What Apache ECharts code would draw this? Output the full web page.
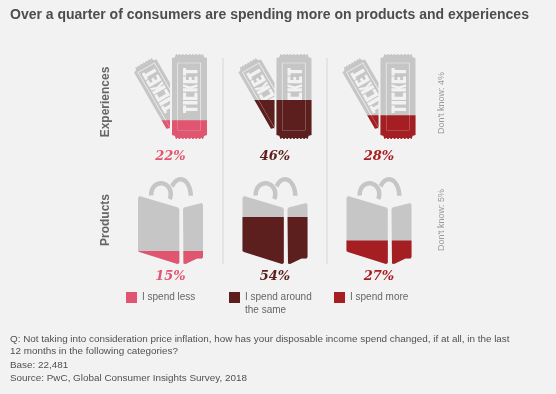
<!DOCTYPE html>
<html>
<head>
<meta charset="utf-8">
<style>html,body{margin:0;padding:0;background:#f2f2f2}#c{width:556px;height:394px}</style>
<script src="https://cdn.jsdelivr.net/npm/echarts@6/dist/echarts.min.js"></script>
</head>
<body>
<div id="c"></div>
<script>
// ---------- data ----------
const responses = ['I spend less', 'I spend around the same', 'I spend more'];
const colors = ['#e0556f', '#5c1f1e', '#a51e22'];
const experiences = [22, 46, 28];
const products = [15, 54, 27];
const dontKnow = ['Don\'t know: 4%', 'Don\'t know: 5%'];
const rowNames = ['Experiences', 'Products'];
const titleText = 'Over a quarter of consumers are spending more on products and experiences';
const questionText = 'Q: Not taking into consideration price inflation, how has your disposable income spend changed, if at all, in the last\n12 months in the following categories?';
const baseText = 'Base: 22,481';
const sourceText = 'Source: PwC, Global Consumer Insights Survey, 2018';

// ---------- icon shapes ----------
const area = p => p.reduce((s, a, i) => { const b = p[(i + 1) % p.length]; return s + a[0] * b[1] - b[0] * a[1]; }, 0);
const orient = (p, cw) => ((area(p) > 0) === cw ? p : p.slice().reverse());
const toPath = p => 'M' + p.map(q => q[0].toFixed(2) + ' ' + q[1].toFixed(2)).join('L') + 'Z';
function clipX(p, xmax) {
  const out = [];
  p.forEach((a, i) => {
    const b = p[(i + 1) % p.length];
    const ain = a[0] <= xmax, bin = b[0] <= xmax;
    if (ain) out.push(a);
    if (ain !== bin) { const t = (xmax - a[0]) / (b[0] - a[0]); out.push([xmax, a[1] + t * (b[1] - a[1])]); }
  });
  return out;
}
function ticketOutline(w, h, n) {
  const c = 4, d = 1, p = [[0, c], [c * 0.7, c * 0.8], [c, 0]];
  const tw = (w - 2 * c) / (2 * n);
  for (let i = 0; i < n; i++) { const x = c + i * 2 * tw; p.push([x + tw * 0.5, 0], [x + tw * 0.5, d], [x + tw * 1.5, d], [x + tw * 1.5, 0]); }
  p.push([w - c, 0], [w - c * 0.7, c * 0.8], [w, c], [w, h - c], [w - c * 0.7, h - c * 0.8], [w - c, h]);
  for (let i = n - 1; i >= 0; i--) { const x = c + i * 2 * tw; p.push([x + tw * 1.5, h], [x + tw * 1.5, h - d], [x + tw * 0.5, h - d], [x + tw * 0.5, h]); }
  p.push([c, h], [c * 0.7, h - c * 0.8], [0, h - c]);
  return p;
}
const letterT = [5, [[0,0],[5,0],[5,1.5],[3.6,1.5],[3.6,7],[1.4,7],[1.4,1.5],[0,1.5]]];
const glyphs = [
  letterT,
  [2.4, [[0,0],[2.4,0],[2.4,7],[0,7]]],
  [5, [[0,0],[5,0],[5,1.5],[2.2,1.5],[2.2,5.5],[5,5.5],[5,7],[0,7]]],
  [5, [[0,0],[2.2,0],[2.2,2.8],[3.2,0],[5,0],[3.5,3.4],[5,7],[3.2,7],[2.2,4.2],[2.2,7],[0,7]]],
  [4.6, [[0,0],[4.6,0],[4.6,1.4],[2.2,1.4],[2.2,2.8],[4.2,2.8],[4.2,4.2],[2.2,4.2],[2.2,5.6],[4.6,5.6],[4.6,7],[0,7]]],
  letterT
];
function textPolys(x0, y0, across, along) {
  // reads bottom-to-top inside ticket coordinates
  const total = glyphs.reduce((s, g) => s + g[0], 0) + 0.7 * (glyphs.length - 1);
  const su = along / total, sv = across / 7;
  let u = 0;
  return glyphs.map(g => {
    const out = g[1].map(q => [x0 + q[1] * sv, y0 + along - (u + q[0]) * su]);
    u += g[0] + 0.7;
    return out;
  });
}
function frameRing(x0, y0, x1, y1, t) {
  const r = (a, b, c, d) => [[a, b], [c, b], [c, d], [a, d]];
  return [orient(r(x0 - t / 2, y0 - t / 2, x1 + t / 2, y1 + t / 2), false), orient(r(x0 + t / 2, y0 + t / 2, x1 - t / 2, y1 - t / 2), true)];
}
function ticketPath(withText) {
  const parts = [];
  const tf = withText ? 0.7 : 0.25;
  // right ticket
  const R = (p) => p.map(q => [q[0] + 38, q[1]]);
  parts.push(orient(R(ticketOutline(35, 85, 8)), true));
  frameRing(5.7, 9, 28.7, 76, tf).forEach(p => parts.push(R(p)));
  if (withText) textPolys(11, 14, 14.5, 45).forEach(p => parts.push(orient(R(p), false)));
  // left ticket: rotated, cut by right ticket
  const ang = -30 * Math.PI / 180, cs = Math.cos(ang), sn = Math.sin(ang);
  const L = (p) => clipX(p.map(q => [-2 + q[0] * cs - q[1] * sn, 15 + q[0] * sn + q[1] * cs]), 36);
  parts.push(orient(L(ticketOutline(26, 73, 6)), true));
  frameRing(3.5, 6, 22.5, 70, tf).forEach(p => parts.push(L(p)));
  if (withText) textPolys(6, 9, 14, 46).forEach(p => parts.push(orient(L(p), false)));
  return 'path://' + parts.map(toPath).join('') + 'M0 0ZM73 85Z';
}
function arcBand(cx, cy, rx, ry, t, a0, a1) {
  const o = [], i = [];
  for (let a = a0; a <= a1; a += 8) {
    const r = a * Math.PI / 180;
    o.push([cx + rx * Math.cos(r), cy + ry * Math.sin(r)]);
    i.unshift([cx + (rx - t) * Math.cos(r), cy + (ry - t) * Math.sin(r)]);
  }
  return orient(o.concat(i), true);
}
function bagPath() {
  const parts = [
    [[0,21],[1.5,19],[40,30.5],[41.3,32],[41.3,86],[39.5,87],[1.5,75],[0,74]],
    [[45,32],[46,30.5],[63.5,26],[65,27.5],[65,80],[64,81.5],[59,81.5],[47.5,87],[45.5,86.5]],
    arcBand(23, 17, 12, 13, 4.5, 172, 388),
    arcBand(42.5, 19, 12.5, 19, 4.5, 215, 365)
  ].map(p => orient(p, true));
  return 'path://' + parts.map(toPath).join('') + 'M0 0ZM65 0Z';
}
const ticketGray = ticketPath(true), ticketFill = ticketPath(false), bagSymbol = bagPath();

// ---------- layout ----------
const cols = [0, 104.5, 208.5];
const rows = [
  { values: experiences, left: 134, top: 54, w: 73, h: 85, gray: ticketGray, fill: ticketFill, margin: 11 },
  { values: products, left: 138, top: 177, w: 65, h: 87, gray: bagSymbol, fill: bagSymbol, margin: 6 }
];
const grid = [], xAxis = [], yAxis = [], series = [];
rows.forEach(r => cols.forEach((dx, c) => {
  const k = grid.length;
  grid.push({ left: r.left + dx, top: r.top, width: r.w, height: r.h });
  xAxis.push({
    gridIndex: k, type: 'category', data: [r.values[c] + '%'],
    axisLine: { show: false }, axisTick: { show: false },
    axisLabel: { margin: r.margin, color: colors[c], fontFamily: 'DejaVu Serif', fontWeight: 'bold', fontStyle: 'italic', fontSize: 13 }
  });
  yAxis.push({ gridIndex: k, type: 'value', min: 0, max: 100, show: false });
  const base = { type: 'pictorialBar', xAxisIndex: k, yAxisIndex: k, symbolPosition: 'start', symbolBoundingData: 100, symbolSize: [r.w, r.h], silent: true, animation: false };
  series.push(Object.assign({}, base, { name: 'base', data: [100], symbol: r.gray, itemStyle: { color: '#c6c6c6' }, z: 2 }));
  series.push(Object.assign({}, base, { name: responses[c], data: [r.values[c]], symbol: r.fill, symbolClip: true, itemStyle: { color: colors[c] }, z: 3 }));
}));

const gray = '#666666';
const vText = (text, x, y, size, weight, color) => ({ type: 'text', x, y, rotation: Math.PI / 2, silent: true,
  style: { text, align: 'center', verticalAlign: 'middle', fontFamily: 'Liberation Sans', fontSize: size, fontWeight: weight, fill: color } });
const divider = x => ({ type: 'rect', silent: true, shape: { x, y: 58, width: 2, height: 206 }, style: { fill: '#e4e4e4' } });
const footStyle = { fontFamily: 'Liberation Sans', fontSize: 9.9, fontWeight: 'normal', color: '#505050', lineHeight: 12.5 };

const option = {
  backgroundColor: '#f2f2f2',
  animation: false,
  title: [
    { text: titleText, left: 10, top: 8, padding: 0, textStyle: { fontFamily: 'Liberation Sans', fontSize: 14, fontWeight: 'bold', color: '#4d4d4d' } },
    { text: questionText, left: 10, top: 333, padding: 0, textStyle: footStyle },
    { text: baseText, left: 10, top: 359, padding: 0, textStyle: footStyle },
    { text: sourceText, left: 10, top: 372, padding: 0, textStyle: footStyle }
  ],
  legend: responses.map((name, i) => ({
    data: [name], left: [126, 229, 334][i], top: i === 1 ? 278 : 291, padding: 0, selectedMode: false, icon: 'rect',
    itemWidth: 11, itemHeight: 11, itemGap: 0,
    formatter: n => (n === responses[1] ? '\nI spend around\nthe same' : n),
    textStyle: { fontFamily: 'Liberation Sans', fontSize: 10, color: gray, lineHeight: 13 }
  })),
  grid, xAxis, yAxis, series,
  graphic: [
    divider(222), divider(326),
    vText(rowNames[0], 106, 102, 12, 'bold', gray),
    vText(rowNames[1], 106, 220, 12, 'bold', gray),
    vText(dontKnow[0], 442, 103, 9, 'normal', '#9a9a9a'),
    vText(dontKnow[1], 442, 220, 9, 'normal', '#9a9a9a')
  ]
};
echarts.init(document.getElementById('c'), null, { renderer: 'canvas' }).setOption(option);
</script>
</body>
</html>
